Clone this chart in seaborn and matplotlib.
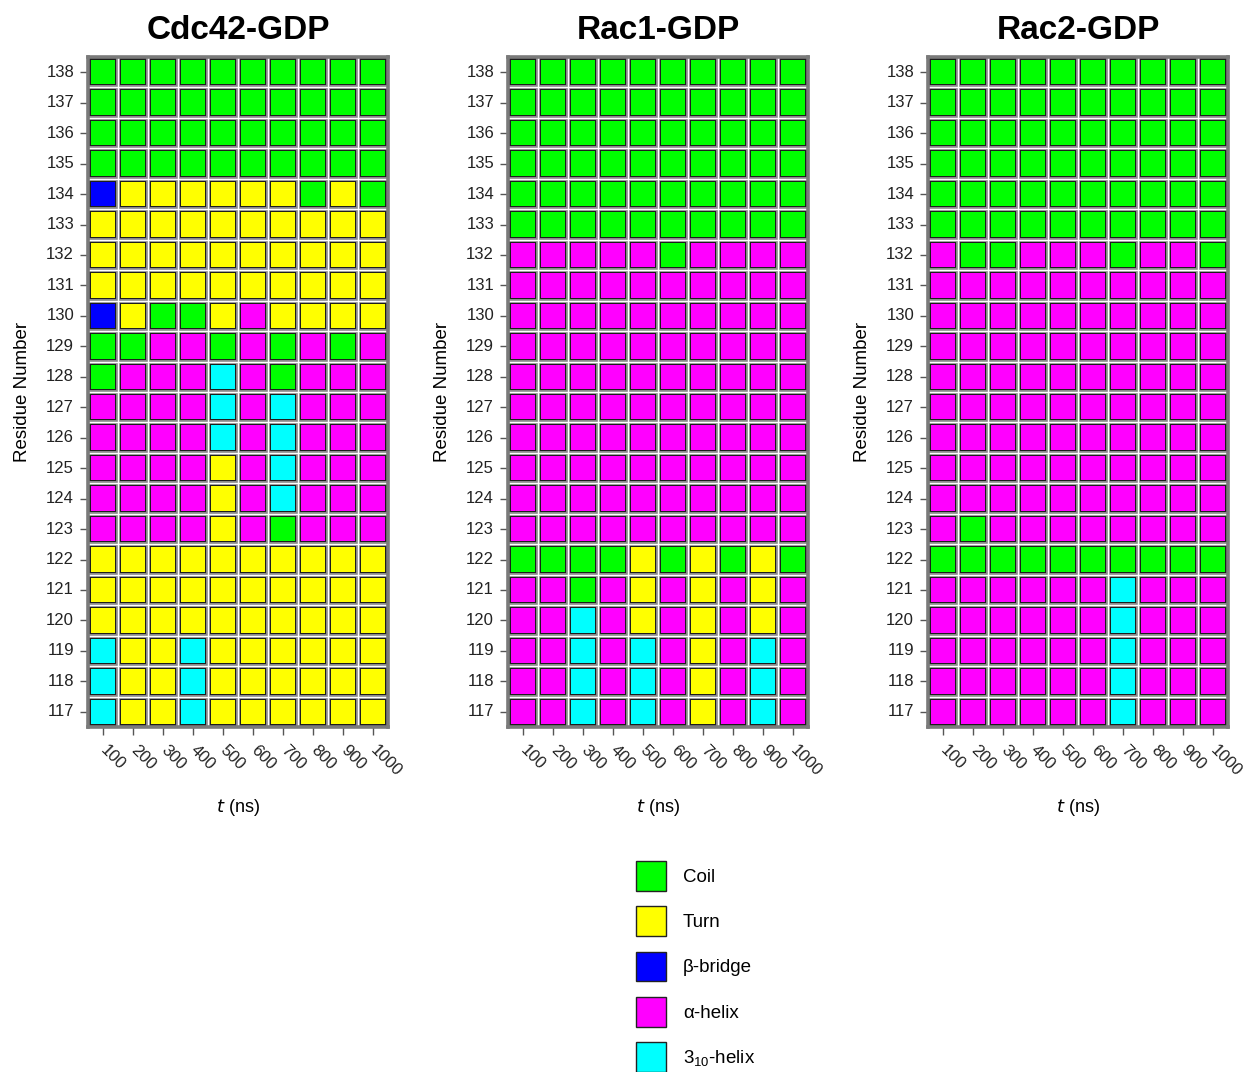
import numpy as np
import pandas as pd
import matplotlib
matplotlib.use("Agg")
import matplotlib.pyplot as plt
from matplotlib.colors import ListedColormap
from matplotlib.patches import Patch
import seaborn as sns

plt.rcParams["font.family"] = ["Liberation Sans", "DejaVu Sans"]
plt.rcParams["mathtext.default"] = "regular"

# Simulation time points (ns) and residue numbers (top row first)
times = [100, 200, 300, 400, 500, 600, 700, 800, 900, 1000]
residues = list(range(138, 116, -1))

# Secondary-structure classes
state_codes = ["C", "T", "B", "H", "G"]
state_names = ["Coil", "Turn", "\u03b2-bridge", "\u03b1-helix", "3$_{10}$-helix"]
state_colors = ["#00ff00", "#ffff00", "#0000ff", "#ff00ff", "#00ffff"]

# One string per residue (138 -> 117), one letter per time point
cdc42_ss = [
    "CCCCCCCCCC",  # 138
    "CCCCCCCCCC",  # 137
    "CCCCCCCCCC",  # 136
    "CCCCCCCCCC",  # 135
    "BTTTTTTCTC",  # 134
    "TTTTTTTTTT",  # 133
    "TTTTTTTTTT",  # 132
    "TTTTTTTTTT",  # 131
    "BTCCTHTTTT",  # 130
    "CCHHCHCHCH",  # 129
    "CHHHGHCHHH",  # 128
    "HHHHGHGHHH",  # 127
    "HHHHGHGHHH",  # 126
    "HHHHTHGHHH",  # 125
    "HHHHTHGHHH",  # 124
    "HHHHTHCHHH",  # 123
    "TTTTTTTTTT",  # 122
    "TTTTTTTTTT",  # 121
    "TTTTTTTTTT",  # 120
    "GTTGTTTTTT",  # 119
    "GTTGTTTTTT",  # 118
    "GTTGTTTTTT",  # 117
]

rac1_ss = [
    "CCCCCCCCCC",  # 138
    "CCCCCCCCCC",  # 137
    "CCCCCCCCCC",  # 136
    "CCCCCCCCCC",  # 135
    "CCCCCCCCCC",  # 134
    "CCCCCCCCCC",  # 133
    "HHHHHCHHHH",  # 132
    "HHHHHHHHHH",  # 131
    "HHHHHHHHHH",  # 130
    "HHHHHHHHHH",  # 129
    "HHHHHHHHHH",  # 128
    "HHHHHHHHHH",  # 127
    "HHHHHHHHHH",  # 126
    "HHHHHHHHHH",  # 125
    "HHHHHHHHHH",  # 124
    "HHHHHHHHHH",  # 123
    "CCCCTCTCTC",  # 122
    "HHCHTHTHTH",  # 121
    "HHGHTHTHTH",  # 120
    "HHGHGHTHGH",  # 119
    "HHGHGHTHGH",  # 118
    "HHGHGHTHGH",  # 117
]

rac2_ss = [
    "CCCCCCCCCC",  # 138
    "CCCCCCCCCC",  # 137
    "CCCCCCCCCC",  # 136
    "CCCCCCCCCC",  # 135
    "CCCCCCCCCC",  # 134
    "CCCCCCCCCC",  # 133
    "HCCHHHCHHC",  # 132
    "HHHHHHHHHH",  # 131
    "HHHHHHHHHH",  # 130
    "HHHHHHHHHH",  # 129
    "HHHHHHHHHH",  # 128
    "HHHHHHHHHH",  # 127
    "HHHHHHHHHH",  # 126
    "HHHHHHHHHH",  # 125
    "HHHHHHHHHH",  # 124
    "HCHHHHHHHH",  # 123
    "CCCCCCCCCC",  # 122
    "HHHHHHGHHH",  # 121
    "HHHHHHGHHH",  # 120
    "HHHHHHGHHH",  # 119
    "HHHHHHGHHH",  # 118
    "HHHHHHGHHH",  # 117
]

panels = [("Cdc42-GDP", cdc42_ss), ("Rac1-GDP", rac1_ss), ("Rac2-GDP", rac2_ss)]

W, H = 1247, 1072
fig = plt.figure(figsize=(W / 100, H / 100), dpi=100)
cmap = ListedColormap(state_colors)
code_index = {c: i for i, c in enumerate(state_codes)}

ax_left_px = [88, 508, 928]
ax_top_px, ax_bot_px, ax_w_px = 57, 727, 300

for (title, rows), lp in zip(panels, ax_left_px):
    ax = fig.add_axes([lp / W, 1 - ax_bot_px / H, ax_w_px / W, (ax_bot_px - ax_top_px) / H])
    grid = pd.DataFrame([[code_index[c] for c in r] for r in rows],
                        index=residues, columns=times)
    sns.heatmap(grid, cmap=cmap, vmin=-0.5, vmax=len(state_codes) - 0.5,
                cbar=False, linewidths=4.3, linecolor="#1c1c1c", ax=ax)
    # cell separators: grey channel with a thin white centre line
    for i in range(1, len(times)):
        ax.axvline(i, color="#8a8a8a", lw=2.9, zorder=3)
        ax.axvline(i, color="white", lw=1.0, zorder=4)
    for j in range(1, len(residues)):
        ax.axhline(j, color="#8a8a8a", lw=2.9, zorder=3)
        ax.axhline(j, color="white", lw=1.0, zorder=4)
    for s in ax.spines.values():
        s.set_visible(True)
        s.set_color("#7a7a7a")
        s.set_linewidth(2.6)
        s.set_zorder(5)

    ax.set_title(title, fontsize=24, fontweight="bold", pad=13)
    ax.set_yticks(np.arange(len(residues)) + 0.5)
    ax.set_yticklabels(residues, rotation=0, fontsize=12, color="#222222")
    ax.set_xticks(np.arange(len(times)) + 0.5)
    ax.set_xticklabels(times, rotation=-45, ha="left", va="center",
                       rotation_mode="anchor", fontsize=12, color="#222222")
    ax.tick_params(axis="both", length=6, width=1.0, color="#555555")
    ax.tick_params(axis="x", pad=9)
    ax.tick_params(axis="y", pad=4)

    ax.set_xlabel("$\\it{t}$ (ns)", fontsize=13)
    ax.xaxis.set_label_coords(0.5, -0.105)
    ax.set_ylabel("Residue Number", fontsize=13.5)
    ax.yaxis.set_label_coords(-0.19, 0.5)

handles = [Patch(facecolor=c, edgecolor="#222222", linewidth=1.0) for c in state_colors]
fs = 13.5
fig.legend(handles, state_names, loc="upper left",
           bbox_to_anchor=(636 / W, 1 - 861 / H), frameon=False, fontsize=fs,
           handlelength=1.6, handleheight=2.05, labelspacing=0.84,
           handletextpad=0.9, borderpad=0, borderaxespad=0)

fig.savefig("out.png", dpi=100)
